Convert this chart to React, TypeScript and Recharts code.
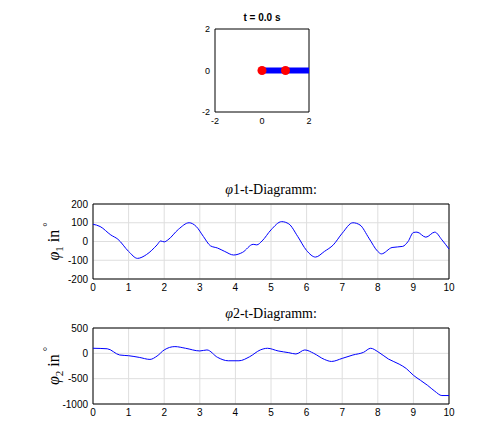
import React from 'react';
import {
  ComposedChart,
  LineChart,
  Line,
  Scatter,
  XAxis,
  YAxis,
  CartesianGrid,
  ReferenceArea,
} from 'recharts';

// pendulum snapshot at t = 0
const ROD_X = [0, 1, 2];
const ROD_Y = [0, 0, 0];
const MASS_X = [0, 1];
const MASS_Y = [0, 0];
const SNAP_TICKS = [-2, 0, 2];

// phi1 over time (degrees)
const T_PHI1 = [
  0, 0.2, 0.5, 0.7, 1.0, 1.25, 1.5, 1.8, 1.9, 2.0, 2.1, 2.4, 2.7, 2.9, 3.1, 3.3, 3.5, 3.7, 3.95, 4.2,
  4.5, 4.6, 4.75, 5.0, 5.3, 5.5, 5.75, 6.0, 6.25, 6.5, 6.75, 7.0, 7.3, 7.5, 7.75, 8.0, 8.1, 8.4, 8.7,
  8.85, 9.0, 9.1, 9.35, 9.6, 9.8, 10.0,
];
const PHI1 = [
  92, 80, 35, 12, -53, -90, -70, -18, 3, -2, 8, 65, 100, 80, 27, -23, -35, -53, -72, -58, -15, -18,
  3, 62, 106, 94, 27, -48, -83, -53, -18, 44, 100, 88, 18, -53, -66, -32, -26, 0, 48, 50, 23, 50, 9,
  -40,
];

// phi2 over time (degrees)
const T_PHI2 = [
  0, 0.4, 0.75, 1.0, 1.3, 1.6, 1.8, 2.0, 2.3, 2.6, 3.0, 3.2, 3.5, 3.8, 4.1, 4.4, 4.7, 4.9, 5.2, 5.5,
  5.7, 5.95, 6.2, 6.5, 6.7, 7.0, 7.3, 7.6, 7.8, 8.0, 8.3, 8.6, 8.8, 9.0, 9.2, 9.4, 9.6, 9.8, 10.0,
];
const PHI2 = [
  100, 90, -33, -47, -80, -120, -53, 67, 133, 100, 47, 67, -80, -147, -147, -67, 67, 100, 47, 13,
  -13, 67, 0, -120, -160, -100, -33, 20, 100, 33, -113, -213, -300, -433, -533, -633, -747, -833,
  -833,
];

const T_TICKS = [0, 1, 2, 3, 4, 5, 6, 7, 8, 9, 10];
const PHI1_TICKS = [-200, -100, 0, 100, 200];
const PHI2_TICKS = [-1000, -500, 0, 500];

const rodData = ROD_X.map((x, i) => ({ x, y: ROD_Y[i] }));
const massData = MASS_X.map((x, i) => ({ x, y: MASS_Y[i] }));
const phi1Data = T_PHI1.map((t, i) => ({ t, v: PHI1[i] }));
const phi2Data = T_PHI2.map((t, i) => ({ t, v: PHI2[i] }));

const tickFont = { fontFamily: 'Liberation Sans, Arial, sans-serif', fontSize: 10, fill: '#000' };
const serif = 'Liberation Serif, Times New Roman, serif';

function YLabel({ idx }: { idx: string }) {
  // rotated "φ_i in °" label
  return (
    <text x={0} y={0} textAnchor="middle" fontFamily={serif} fontSize={16} fill="#000">
      <tspan fontStyle="italic">φ</tspan>
      <tspan fontSize={11} dy={4}>{idx}</tspan>
      <tspan dy={-4}> in</tspan>
      <tspan fontSize={11} dx={3} dy={-8}>°</tspan>
    </text>
  );
}

function TimeChart({
  data,
  ticks,
  domain,
  idx,
  top,
  height,
  plotTop,
  plotBottom,
}: {
  data: { t: number; v: number }[];
  ticks: number[];
  domain: [number, number];
  idx: string;
  top: number;
  height: number;
  plotTop: number;
  plotBottom: number;
}) {
  const axisH = 16;
  return (
    <div style={{ position: 'absolute', left: 0, top }}>
      <LineChart
        width={487}
        height={height}
        data={data}
        margin={{ top: plotTop, right: 38, bottom: height - plotBottom - axisH, left: 33 }}
      >
        <CartesianGrid stroke="#dedede" strokeWidth={1} />
        <XAxis
          dataKey="t"
          type="number"
          domain={[0, 10]}
          ticks={T_TICKS}
          height={axisH}
          tick={tickFont}
          tickLine={false}
          tickSize={2}
          tickMargin={3}
          axisLine={false}
          interval={0}
        />
        <YAxis
          type="number"
          domain={domain}
          ticks={ticks}
          width={60}
          tick={tickFont}
          tickLine={false}
          tickSize={3}
          tickMargin={2}
          axisLine={false}
          interval={0}
          allowDataOverflow
        />
        <ReferenceArea
          x1={0}
          x2={10}
          y1={domain[0]}
          y2={domain[1]}
          fill="none"
          stroke="#000"
          strokeWidth={1}
          ifOverflow="visible"
        />
        <Line
          dataKey="v"
          type="monotone"
          stroke="#0000ff"
          strokeWidth={1}
          dot={false}
          isAnimationActive={false}
        />
      </LineChart>
      <svg width={70} height={height} style={{ position: 'absolute', left: 0, top: 0 }}>
        <g transform={`translate(59, ${(plotTop + plotBottom) / 2}) rotate(-90)`}>
          <YLabel idx={idx} />
        </g>
      </svg>
      <div
        style={{
          position: 'absolute',
          left: 93,
          width: 356,
          top: plotTop - 22,
          textAlign: 'center',
          fontFamily: serif,
          fontSize: 14,
          lineHeight: '16px',
        }}
      >
        <i>φ</i>
        {idx}-t-Diagramm:
      </div>
    </div>
  );
}

export default function App() {
  return (
    <div
      style={{
        position: 'absolute',
        left: 0,
        top: 0,
        width: 487,
        height: 427,
        background: '#fff',
        overflow: 'hidden',
      }}
    >
      <div
        style={{
          position: 'absolute',
          left: 215,
          width: 94,
          top: 12,
          textAlign: 'center',
          fontFamily: 'Liberation Sans, Arial, sans-serif',
          fontWeight: 'bold',
          fontSize: 10,
          lineHeight: '12px',
        }}
      >
        t = 0.0 s
      </div>
      <div style={{ position: 'absolute', left: 0, top: 0 }}>
        <ComposedChart
          width={487}
          height={130}
          data={rodData}
          margin={{ top: 29, right: 178, bottom: 4, left: 195 }}
        >
          <XAxis
            dataKey="x"
            type="number"
            domain={[-2, 2]}
            ticks={SNAP_TICKS}
            height={14}
            tick={{ ...tickFont, fontSize: 9 }}
            tickLine={false}
            tickSize={2}
            tickMargin={4}
            axisLine={false}
            interval={0}
          />
          <YAxis
            dataKey="y"
            type="number"
            domain={[-2, 2]}
            ticks={SNAP_TICKS}
            width={20}
            tick={{ ...tickFont, fontSize: 9 }}
            tickLine={false}
            tickSize={3}
            tickMargin={2}
            axisLine={false}
            interval={0}
          />
          <ReferenceArea
            x1={-2}
            x2={2}
            y1={-2}
            y2={2}
            fill="none"
            stroke="#000"
            strokeWidth={1}
            ifOverflow="visible"
          />
          <Line
            dataKey="y"
            type="linear"
            stroke="#0000ff"
            strokeWidth={6}
            dot={false}
            isAnimationActive={false}
          />
          <Scatter
            data={massData}
            dataKey="y"
            fill="#ff0000"
            isAnimationActive={false}
            shape={(p: any) => <circle cx={p.cx} cy={p.cy} r={4.5} fill="#ff0000" />}
          />
        </ComposedChart>
      </div>
      <TimeChart
        data={phi1Data}
        ticks={PHI1_TICKS}
        domain={[-200, 200]}
        idx="1"
        top={180}
        height={120}
        plotTop={24}
        plotBottom={99}
      />
      <TimeChart
        data={phi2Data}
        ticks={PHI2_TICKS}
        domain={[-1000, 500]}
        idx="2"
        top={300}
        height={125}
        plotTop={28}
        plotBottom={104}
      />
    </div>
  );
}
